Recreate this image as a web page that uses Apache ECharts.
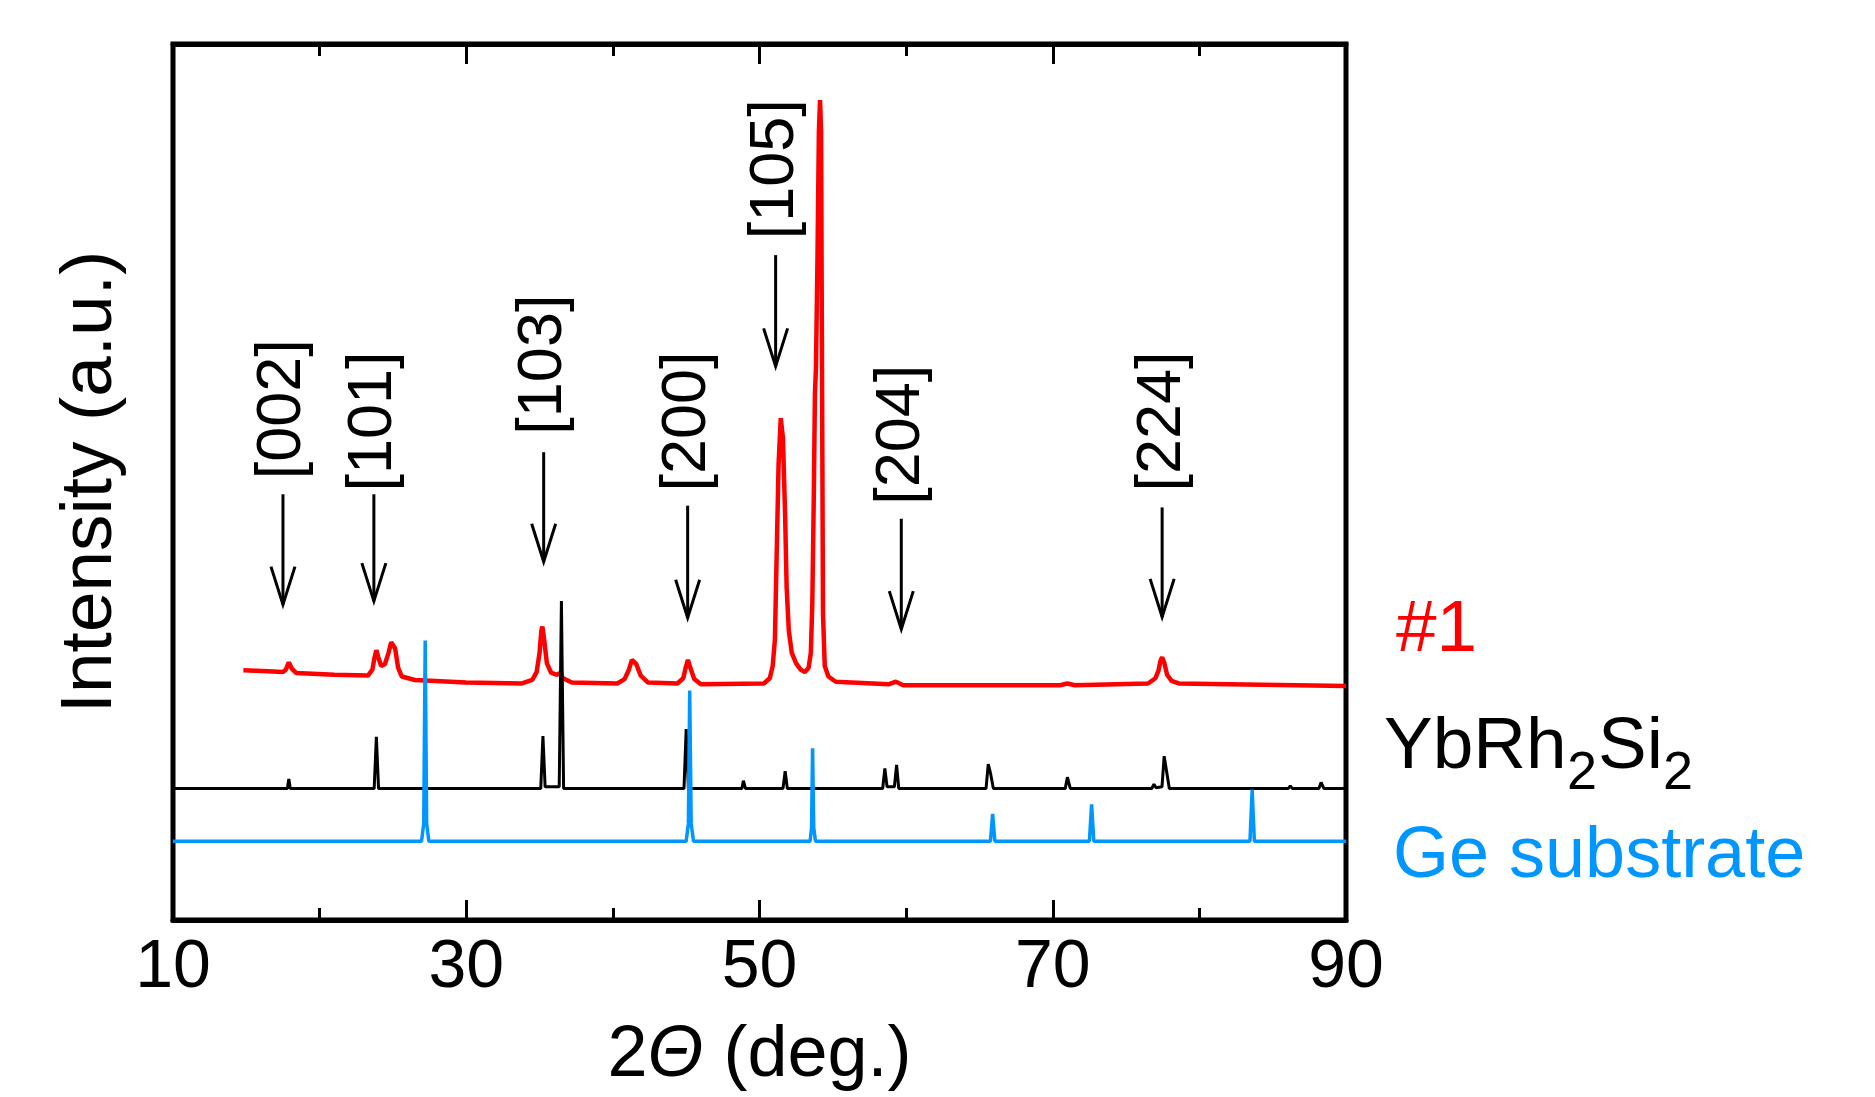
<!DOCTYPE html>
<html>
<head>
<meta charset="utf-8">
<script src="https://cdn.jsdelivr.net/npm/echarts@6/dist/echarts.min.js"></script>
<style>
  html, body { margin: 0; padding: 0; background: #fff; }
  #chart { width: 1875px; height: 1097px; }
</style>
</head>
<body>
<div id="chart"></div>
<script>
var FONT = '"Liberation Sans", Arial, Helvetica, sans-serif';

// sample #1 (film), offset pattern
var film = [[14.8,28.5],[16.5,28.4],[17.5,28.3],[17.7,28.6],[17.9,29.4],[18.1,28.7],[18.4,28.2],[21,28.0],
  [23.3,27.9],[23.6,28.6],[23.75,30.0],[23.87,30.8],[24.0,30.0],[24.2,29.0],[24.45,29.2],[24.7,30.5],[24.88,31.7],
  [25.0,31.9],[25.15,31.0],[25.35,28.8],[25.6,27.8],[26.5,27.4],[30,27.1],[33.8,27.0],[34.5,27.4],[34.8,28.3],
  [35.0,30.5],[35.12,33.0],[35.19,33.5],[35.3,32.2],[35.5,29.3],[35.8,28.2],[36.2,28.0],[36.37,28.2],[36.6,27.6],
  [37.2,27.1],[40.3,27.0],[40.8,27.5],[41.1,28.6],[41.3,29.7],[41.4,29.9],[41.6,29.2],[41.9,27.9],[42.4,27.1],
  [44.4,27.0],[44.8,27.6],[44.98,28.9],[45.12,29.7],[45.3,28.7],[45.55,27.5],[46.0,26.9],[50.3,27.0],[50.7,27.6],
  [50.9,29.0],[51.05,32],[51.15,40],[51.3,52],[51.45,57.3],[51.6,55],[51.75,46],[51.85,38],[52.0,33],[52.2,30.5],
  [52.5,29.3],[52.8,28.6],[53.1,28.3],[53.35,28.8],[53.5,30.5],[53.6,36],[53.7,48],[53.78,60],[53.85,63],
  [53.95,75],[54.05,90],[54.13,93.6],[54.2,90],[54.27,60],[54.33,35],[54.45,29],[54.7,27.8],[55.2,27.2],
  [58.8,26.9],[59.3,27.2],[59.8,26.8],[70.5,26.8],[71,27.0],[71.5,26.8],[76.5,27.0],[77.0,27.6],[77.2,28.4],
  [77.35,29.6],[77.46,30.0],[77.6,29.4],[77.8,28.0],[78.1,27.3],[78.6,27.0],[90,26.7]];

// YbRh2Si2 reference pattern
var ybrh2si2 = [[10,15],[17.8,15],[17.9,16.1],[18.0,15],[23.72,15],[23.87,20.9],[24.02,15],[35.08,15],[35.23,21.0],
  [35.38,15.2],[36.34,15.2],[36.49,36.4],[36.64,15],[44.85,15],[45.0,21.8],[45.15,15],[48.8,15],[48.9,15.9],[49.05,15],
  [51.6,15],[51.75,17.0],[51.9,15],[58.4,15],[58.55,17.3],[58.7,15.2],[59.2,15.2],[59.35,17.7],[59.5,15],
  [65.45,15],[65.6,17.8],[65.75,16.8],[65.95,15],[70.85,15],[71.0,16.3],[71.2,15],[76.75,15],[76.9,15.5],[77.05,15.1],
  [77.45,15.2],[77.6,18.7],[77.78,16.8],[77.95,15],[86.05,15],[86.2,15.3],[86.35,15],[88.15,15],[88.3,15.7],
  [88.5,15],[90,15]];

// Ge substrate pattern
var geSub = [[10,9.0],[26.95,9.0],[27.1,11],[27.2,31.9],[27.3,11],[27.45,9.0],[45.0,9.0],[45.15,11],[45.24,26.2],
  [45.34,11],[45.5,9.0],[53.45,9.0],[53.55,10.5],[53.62,19.6],[53.7,10.5],[53.82,9.0],[65.75,9.0],[65.9,12.1],
  [66.05,9.0],[72.5,9.0],[72.65,13.2],[72.8,9.0],[83.45,9.0],[83.6,14.9],[83.75,9.0],[90,9.0]];

// reflection markers
var peakLabels = ['[002]', '[101]', '[103]', '[200]', '[105]', '[204]', '[224]'];
var peakPos    = [17.5, 23.7, 35.28, 45.1, 51.1, 59.67, 77.46];
var arrowTop   = [48.6, 48.6, 53.4, 47.3, 75.9, 45.8, 47.1];
var arrowTip   = [36.0, 36.4, 40.9, 34.5, 63.2, 33.2, 34.6];
var labelY     = [58.3, 56.9, 63.4, 56.9, 85.7, 55.4, 56.9];

var markers = peakPos.map(function(x, i) {
  return [x, arrowTop[i], arrowTip[i], labelY[i]];
});

var chart = echarts.init(document.getElementById('chart'));

var xCommon = {
  type: 'value', min: 10, max: 90, interval: 20,
  axisLine: { show: true, lineStyle: { color: '#000', width: 5 } },
  axisTick: { show: true, inside: true, length: 20, lineStyle: { color: '#000', width: 3 } },
  minorTick: { show: true, splitNumber: 2, length: 12, lineStyle: { color: '#000', width: 3 } },
  splitLine: { show: false }
};

function txt(s, left, top, size, color) {
  return { type: 'text', left: left, top: top,
           style: { text: s, fontSize: size, fontFamily: FONT, fill: color } };
}

chart.setOption({
  animation: false,
  backgroundColor: '#fff',
  grid: { left: 173, right: 529, top: 44, bottom: 173, show: true, borderColor: '#000', borderWidth: 5 },
  xAxis: [
    Object.assign({}, xCommon, {
      position: 'bottom',
      axisLabel: { show: true, color: '#000', fontSize: 68, fontFamily: FONT, margin: 14 },
      name: '{n|2}{i|Θ}{n| (deg.)}',
      nameLocation: 'middle',
      nameGap: 100,
      nameTextStyle: {
        rich: {
          n: { fontSize: 72, fontFamily: FONT, color: '#000' },
          i: { fontSize: 72, fontFamily: FONT, fontStyle: 'italic', color: '#000' }
        }
      }
    }),
    Object.assign({}, xCommon, { position: 'top', axisLabel: { show: false } })
  ],
  yAxis: {
    type: 'value', min: 0, max: 100,
    axisLine: { show: false }, axisTick: { show: false }, axisLabel: { show: false }, splitLine: { show: false },
    name: 'Intensity (a.u.)',
    nameLocation: 'middle',
    nameRotate: 90,
    nameGap: 46,
    nameTextStyle: { fontSize: 73, fontFamily: FONT, color: '#000' }
  },
  series: [
    { type: 'line', data: film, showSymbol: false, lineStyle: { color: '#ff0000', width: 4.5 } },
    { type: 'line', data: ybrh2si2, showSymbol: false, lineStyle: { color: '#000', width: 3 } },
    { type: 'line', data: geSub, showSymbol: false, lineStyle: { color: '#0096ff', width: 3.5 } },
    {
      type: 'custom',
      data: markers,
      renderItem: function(params, api) {
        var x = api.value(0);
        var top = api.coord([x, api.value(1)]);
        var tip = api.coord([x, api.value(2)]);
        var lab = api.coord([x, api.value(3)]);
        return {
          type: 'group',
          children: [
            { type: 'line', shape: { x1: top[0], y1: top[1], x2: tip[0], y2: tip[1] },
              style: { stroke: '#000', lineWidth: 3 } },
            { type: 'polyline', shape: { points: [[tip[0] - 12, tip[1] - 38], [tip[0], tip[1]], [tip[0] + 12, tip[1] - 38]] },
              style: { stroke: '#000', lineWidth: 3, fill: null } },
            { type: 'text', x: lab[0], y: lab[1], rotation: Math.PI / 2,
              style: { text: peakLabels[params.dataIndex], fontSize: 63, fontFamily: FONT, fill: '#000',
                       align: 'center', verticalAlign: 'middle' } }
          ]
        };
      }
    }
  ],
  graphic: [
    txt('#1', 1396, 594, 73, '#ff0000'),
    txt('YbRh', 1384, 711, 73, '#000'),
    txt('2', 1567, 747, 54, '#000'),
    txt('Si', 1598, 711, 73, '#000'),
    txt('2', 1663, 747, 54, '#000'),
    txt('Ge substrate', 1393, 821, 72, '#0096ff')
  ]
});
</script>
</body>
</html>
